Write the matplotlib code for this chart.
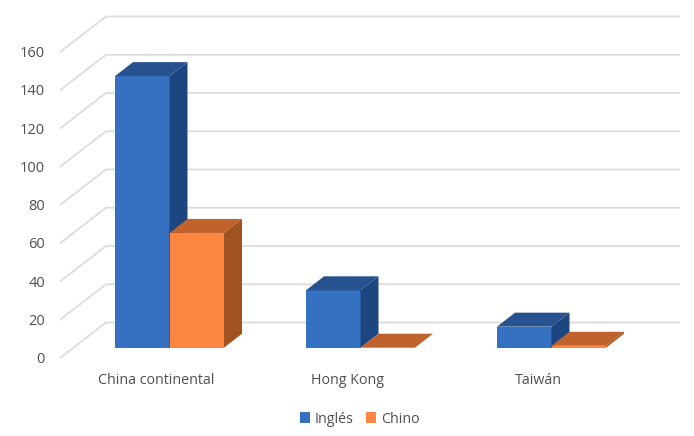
import matplotlib
matplotlib.use('Agg')
import numpy as np
from matplotlib import pyplot as plt
from matplotlib.patches import Patch, Polygon

plt.rcParams['font.family'] = ['Open Sans', 'DejaVu Sans']

categories = ['China continental', 'Hong Kong', 'Taiwán']
ingles = [142, 30, 11]
chino = [60, 0, 1]
yticks = [0, 20, 40, 60, 80, 100, 120, 140, 160]

W, H = 694, 436
PX_X = 191.0    # pixels per category
PX_Y = 1.9125   # pixels per unit of value
BAR_W = 54.5 / PX_X
# 3d offset of one bar depth, in data units
DX = 18.0 / PX_X
DY = 14.0 / PX_Y
FRONT = -0.74   # axis wall front edge, in bar depths
BACK = 1.80     # back wall

fig = plt.figure(figsize=(W / 100, H / 100), dpi=100)
ax = fig.add_axes([0, 0, 1, 1])
ax.set_xlim(-169.5 / PX_X, (W - 169.5) / PX_X)
ax.set_ylim((347.7 - H) / PX_Y, 347.7 / PX_Y)
ax.axis('off')

# gridlines run along the side wall, then across the back wall
wall_x = (60 - 169.5) / PX_X
back_x = (106 - 169.5) / PX_X
grid_end = (680 - 169.5) / PX_X
for v in yticks:
    ax.plot([wall_x, back_x, grid_end],
            [v + FRONT * DY, v + BACK * DY, v + BACK * DY],
            color='#dcdcdc', lw=1.3, zorder=1, solid_capstyle='butt',
            solid_joinstyle='miter')
    ax.text(wall_x - 15 / PX_X, v + FRONT * DY - 0.8, str(v), ha='right', va='center',
            fontsize=10.5, color='#505050')


def box(x0, val, front, side, top):
    x1 = x0 + BAR_W
    ax.bar(x0, val, width=BAR_W, align='edge', color=front, zorder=3, lw=0)
    ax.add_patch(Polygon([(x1, 0), (x1 + DX, DY), (x1 + DX, val + DY), (x1, val)],
                         closed=True, fc=side, ec='none', zorder=3))
    ax.add_patch(Polygon([(x0, val), (x1, val), (x1 + DX, val + DY), (x0 + DX, val + DY)],
                         closed=True, fc=top, ec='none', zorder=3))


# blue first, the orange bar sits in front of its side face
for i in range(len(categories)):
    box(i - BAR_W, ingles[i], '#3571c0', '#1c4680', '#26528f')
    box(i, chino[i], '#fd8640', '#a05220', '#c0622c')
    ax.text(i + FRONT * DX, -17.4, categories[i], ha='center', va='center',
            fontsize=10.3, color='#505050')

handles = [Patch(color='#3571c0', lw=0), Patch(color='#fd8640', lw=0)]
ax.legend(handles, ['Inglés', 'Chino'], ncol=2, frameon=False, loc='center',
          bbox_to_anchor=(359.5 / W, 1 - 419 / H), bbox_transform=fig.transFigure,
          fontsize=10.3, labelcolor='#505050', handlelength=0.72, handleheight=0.72,
          handletextpad=0.3, columnspacing=0.9)

plt.savefig('out.png', dpi=100)
